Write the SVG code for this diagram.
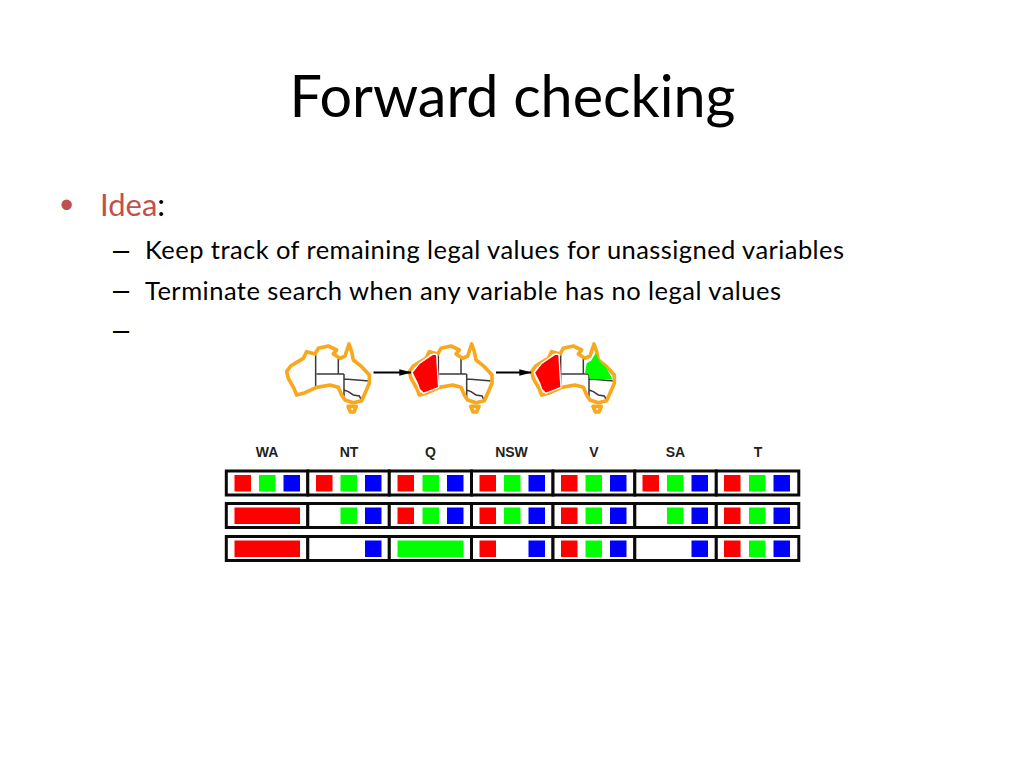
<svg xmlns="http://www.w3.org/2000/svg" width="1024" height="768" viewBox="0 0 1024 768">
<style>
text{font-family:"Lato","Open Sans","Liberation Sans",sans-serif;fill:#000}
.t{font-size:57.500px;text-anchor:middle}
.b1{font-size:31px}
.b2{font-size:25.500px}
.d{font-family:"Liberation Sans",Arial,sans-serif;font-size:29px}
.red{fill:#c0504d}
.h{font-family:"Liberation Sans",Arial,sans-serif;font-weight:bold;font-size:14px;text-anchor:middle;fill:#222}
.o{fill:none;stroke:#f9a81e;stroke-width:11;stroke-linejoin:round}
.i{fill:none;stroke:#3a3a3a;stroke-width:4.500}
.cell{fill:#fff;stroke:#0a0a0a;stroke-width:3}
.r{fill:#f00}.g{fill:#0f0}.bl{fill:#00f}
.m{stroke:#fff;stroke-width:4;stroke-linejoin:round}
.a{fill:none;stroke:#000;stroke-width:2}
</style>
<defs>
<marker id="ah" viewBox="0 0 10 10" refX="9" refY="5" markerWidth="6.500" markerHeight="3.200" orient="auto" markerUnits="strokeWidth" preserveAspectRatio="none"><path d="M0 0L10 5L0 10z" fill="#000"/></marker>
<g id="aus">
<path class="i" d="M137 72V172M140 132H222M205 85V132M222 132L222 208M224 147L298 153M222 180L235 185L250 195L268 198L275 212"/>
<path class="o" d="M50 125L62 108L75 100L100 85L110 65L135 72L145 55L175 48L200 60L190 72L210 85L225 78L237 42L245 65L250 90L275 110L298 135L298 160L285 190L275 212L250 218L225 210L215 195L205 172L180 165L140 172L100 190L80 195L72 175L55 145Z"/>
<path class="o" d="M234 229H259L252 246H241Z"/>
</g>
</defs>
<text class="t" x="512.500" y="117">Forward checking</text>
<g id="bullets">
<text class="d red" x="60" y="217.500" style="font-size:38px">•</text>
<text class="b1" x="100" y="216"><tspan class="red">Idea</tspan>:</text>
<text class="d" x="113" y="260">–</text>
<text class="b2" x="145" y="259" textLength="699" lengthAdjust="spacing">Keep track of remaining legal values for unassigned variables</text>
<text class="d" x="113" y="300">–</text>
<text class="b2" x="145" y="300" textLength="636" lengthAdjust="spacing">Terminate search when any variable has no legal values</text>
<text class="d" x="113" y="340">–</text>
</g>
<g id="map-1" transform="translate(270,330) scale(.3333)"><use href="#aus"/></g>
<g id="map-2" transform="translate(392.700,330) scale(.3333)">
<use href="#aus"/>
<path class="r m" d="M58 128L80 100L106 82L122 72L132 74L135 130L138 172L118 180L92 190L80 178L74 160Z"/>
</g>
<g id="map-3" transform="translate(515,330) scale(.3333)">
<use href="#aus"/>
<path class="r m" d="M58 128L80 100L106 82L122 72L132 74L135 130L138 172L118 180L92 190L80 178L74 160Z"/>
<path class="g" d="M210 130L215 100L228 92L242 70L255 95L275 115L292 147L225 148L220 130Z"/>
</g>
<g id="connectors">
<path class="a" d="M373.500 372.500H411" marker-end="url(#ah)"/>
<path class="a" d="M496 372.500H531" marker-end="url(#ah)"/>
</g>
<g id="headers">
<text class="h" x="267" y="457">WA</text><text class="h" x="349" y="457">NT</text><text class="h" x="430.500" y="457">Q</text><text class="h" x="511.500" y="457">NSW</text><text class="h" x="594" y="457">V</text><text class="h" x="675.500" y="457">SA</text><text class="h" x="758" y="457">T</text>
</g>
<g id="row-1">
<rect class="cell" x="226.300" y="471" width="81.500" height="24"/><rect class="cell" x="307.800" y="471" width="81.500" height="24"/><rect class="cell" x="389.300" y="471" width="82.200" height="24"/><rect class="cell" x="471.500" y="471" width="81.500" height="24"/><rect class="cell" x="553" y="471" width="81.800" height="24"/><rect class="cell" x="634.800" y="471" width="81.500" height="24"/><rect class="cell" x="716.300" y="471" width="82.500" height="24"/>
<rect class="r" x="234.500" y="475" width="16.500" height="16.500"/><rect class="g" x="259" y="475" width="16.500" height="16.500"/><rect class="bl" x="283.500" y="475" width="16.500" height="16.500"/>
<rect class="r" x="316" y="475" width="16.500" height="16.500"/><rect class="g" x="340.500" y="475" width="16.500" height="16.500"/><rect class="bl" x="365" y="475" width="16.500" height="16.500"/>
<rect class="r" x="397.500" y="475" width="16.500" height="16.500"/><rect class="g" x="422.500" y="475" width="16.500" height="16.500"/><rect class="bl" x="447" y="475" width="16.500" height="16.500"/>
<rect class="r" x="479.500" y="475" width="16.500" height="16.500"/><rect class="g" x="504" y="475" width="16.500" height="16.500"/><rect class="bl" x="528.500" y="475" width="16.500" height="16.500"/>
<rect class="r" x="561" y="475" width="16.500" height="16.500"/><rect class="g" x="585.500" y="475" width="16.500" height="16.500"/><rect class="bl" x="610" y="475" width="16.500" height="16.500"/>
<rect class="r" x="642.500" y="475" width="16.500" height="16.500"/><rect class="g" x="667" y="475" width="16.500" height="16.500"/><rect class="bl" x="691.500" y="475" width="16.500" height="16.500"/>
<rect class="r" x="724" y="475" width="16.500" height="16.500"/><rect class="g" x="749" y="475" width="16.500" height="16.500"/><rect class="bl" x="773.500" y="475" width="16.500" height="16.500"/>
</g>
<g id="row-2">
<rect class="cell" x="226.300" y="503.500" width="81.500" height="24"/><rect class="cell" x="307.800" y="503.500" width="81.500" height="24"/><rect class="cell" x="389.300" y="503.500" width="82.200" height="24"/><rect class="cell" x="471.500" y="503.500" width="81.500" height="24"/><rect class="cell" x="553" y="503.500" width="81.800" height="24"/><rect class="cell" x="634.800" y="503.500" width="81.500" height="24"/><rect class="cell" x="716.300" y="503.500" width="82.500" height="24"/>
<rect class="r" x="234.500" y="507.500" width="65.500" height="16.500"/>
<rect class="g" x="340.500" y="507.500" width="16.500" height="16.500"/><rect class="bl" x="365" y="507.500" width="16.500" height="16.500"/>
<rect class="r" x="397.500" y="507.500" width="16.500" height="16.500"/><rect class="g" x="422.500" y="507.500" width="16.500" height="16.500"/><rect class="bl" x="447" y="507.500" width="16.500" height="16.500"/>
<rect class="r" x="479.500" y="507.500" width="16.500" height="16.500"/><rect class="g" x="504" y="507.500" width="16.500" height="16.500"/><rect class="bl" x="528.500" y="507.500" width="16.500" height="16.500"/>
<rect class="r" x="561" y="507.500" width="16.500" height="16.500"/><rect class="g" x="585.500" y="507.500" width="16.500" height="16.500"/><rect class="bl" x="610" y="507.500" width="16.500" height="16.500"/>
<rect class="g" x="667" y="507.500" width="16.500" height="16.500"/><rect class="bl" x="691.500" y="507.500" width="16.500" height="16.500"/>
<rect class="r" x="724" y="507.500" width="16.500" height="16.500"/><rect class="g" x="749" y="507.500" width="16.500" height="16.500"/><rect class="bl" x="773.500" y="507.500" width="16.500" height="16.500"/>
</g>
<g id="row-3">
<rect class="cell" x="226.300" y="536.500" width="81.500" height="24"/><rect class="cell" x="307.800" y="536.500" width="81.500" height="24"/><rect class="cell" x="389.300" y="536.500" width="82.200" height="24"/><rect class="cell" x="471.500" y="536.500" width="81.500" height="24"/><rect class="cell" x="553" y="536.500" width="81.800" height="24"/><rect class="cell" x="634.800" y="536.500" width="81.500" height="24"/><rect class="cell" x="716.300" y="536.500" width="82.500" height="24"/>
<rect class="r" x="234.500" y="540.500" width="65.500" height="16.500"/>
<rect class="bl" x="365" y="540.500" width="16.500" height="16.500"/>
<rect class="g" x="397.500" y="540.500" width="66" height="16.500"/>
<rect class="r" x="479.500" y="540.500" width="16.500" height="16.500"/><rect class="bl" x="528.500" y="540.500" width="16.500" height="16.500"/>
<rect class="r" x="561" y="540.500" width="16.500" height="16.500"/><rect class="g" x="585.500" y="540.500" width="16.500" height="16.500"/><rect class="bl" x="610" y="540.500" width="16.500" height="16.500"/>
<rect class="bl" x="691.500" y="540.500" width="16.500" height="16.500"/>
<rect class="r" x="724" y="540.500" width="16.500" height="16.500"/><rect class="g" x="749" y="540.500" width="16.500" height="16.500"/><rect class="bl" x="773.500" y="540.500" width="16.500" height="16.500"/>
</g>
</svg>
